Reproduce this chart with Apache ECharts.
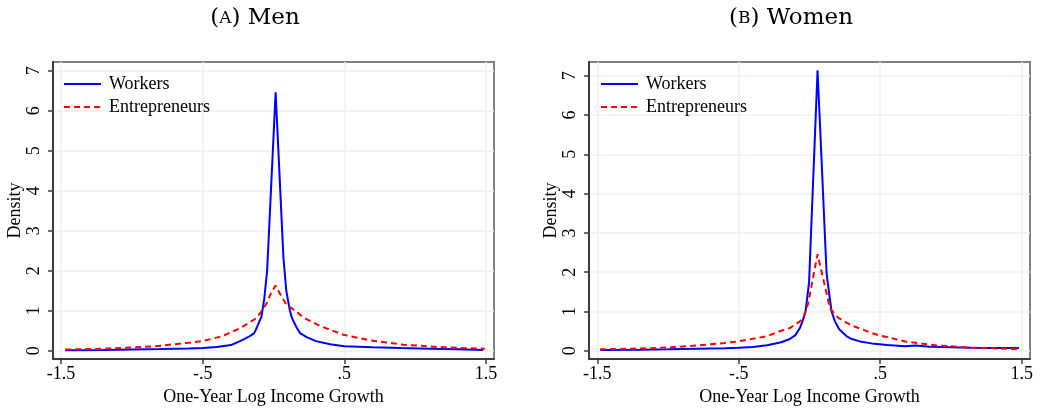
<!DOCTYPE html>
<html>
<head>
<meta charset="utf-8">
<script src="https://cdn.jsdelivr.net/npm/echarts@6/dist/echarts.min.js"></script>
<style>
html,body{margin:0;padding:0;background:#fff;}
#chart{width:1043px;height:411px;}
</style>
</head>
<body>
<div id="chart"></div>
<script>
// ---- data (x = one-year log income growth, y = density) ----
const xTicks = [-1.5, -0.5, 0.5, 1.5];
const xTickLabels = ['-1.5', '-.5', '.5', '1.5'];
const yTicks = [0, 1, 2, 3, 4, 5, 6, 7];
const seriesNames = ['Workers', 'Entrepreneurs'];
const panelTitles = ['Men', 'Women'];
const panelLetters = ['A', 'B'];

const menWorkers = [
  [-1.47, 0.01], [-1.2, 0.02], [-1.0, 0.03], [-0.8, 0.04], [-0.6, 0.055], [-0.5, 0.07],
  [-0.4, 0.09], [-0.3, 0.14], [-0.225, 0.26], [-0.17, 0.36], [-0.136, 0.44], [-0.115, 0.6],
  [-0.085, 0.85], [-0.065, 1.3], [-0.045, 2.0], [0.015, 6.46], [0.07, 2.33], [0.09, 1.5],
  [0.116, 1.0], [0.13, 0.82], [0.16, 0.6], [0.187, 0.44], [0.234, 0.34], [0.3, 0.24],
  [0.4, 0.16], [0.5, 0.11], [0.7, 0.085], [0.9, 0.065], [1.1, 0.05], [1.3, 0.035], [1.48, 0.02]
];
const menEntrepreneurs = [
  [-1.47, 0.03], [-1.2, 0.05], [-1.07, 0.07], [-0.836, 0.11], [-0.6, 0.2], [-0.5, 0.24],
  [-0.366, 0.36], [-0.237, 0.56], [-0.131, 0.79], [-0.096, 0.93], [-0.049, 1.18], [-0.014, 1.47],
  [0.015, 1.63], [0.045, 1.43], [0.093, 1.14], [0.163, 0.98], [0.21, 0.83], [0.328, 0.62],
  [0.492, 0.4], [0.68, 0.26], [0.916, 0.15], [1.151, 0.095], [1.3, 0.07], [1.492, 0.05]
];
const womenWorkers = [
  [-1.48, 0.02], [-1.2, 0.03], [-1.0, 0.04], [-0.8, 0.055], [-0.6, 0.068], [-0.5, 0.08],
  [-0.4, 0.1], [-0.3, 0.14], [-0.2, 0.22], [-0.139, 0.3], [-0.1, 0.4], [-0.068, 0.58],
  [-0.045, 0.8], [-0.028, 1.0], [-0.003, 1.75], [0.057, 7.14], [0.121, 1.96], [0.156, 1.0],
  [0.18, 0.75], [0.21, 0.55], [0.263, 0.37], [0.3, 0.3], [0.356, 0.24], [0.44, 0.19],
  [0.55, 0.15], [0.675, 0.12], [0.75, 0.135], [0.85, 0.105], [1.0, 0.09], [1.147, 0.08],
  [1.3, 0.075], [1.48, 0.07]
];
const womenEntrepreneurs = [
  [-1.48, 0.04], [-1.2, 0.06], [-1.08, 0.075], [-0.85, 0.12], [-0.6, 0.2], [-0.505, 0.24],
  [-0.3, 0.37], [-0.21, 0.5], [-0.139, 0.58], [-0.068, 0.75], [-0.045, 0.83], [-0.01, 1.2],
  [0.026, 1.88], [0.057, 2.46], [0.086, 2.0], [0.121, 1.46], [0.144, 1.08], [0.2, 0.85],
  [0.3, 0.64], [0.356, 0.57], [0.44, 0.45], [0.5, 0.39], [0.675, 0.24], [0.91, 0.135],
  [1.147, 0.08], [1.3, 0.065], [1.48, 0.04]
];

const panelData = [[menWorkers, menEntrepreneurs], [womenWorkers, womenEntrepreneurs]];

// ---- layout / style ----
const FONT = '"Liberation Serif", "Times New Roman", serif';
const grids = [
  { left: 53, top: 62, width: 441, height: 301 },
  { left: 589, top: 62, width: 441, height: 301 }
];
const xRanges = [[-1.556, 1.556], [-1.559, 1.559]];
const yRanges = [[-0.21, 7.22], [-0.21, 7.35]];
const titleCenters = [250, 786];
const legendLefts = [58, 595];
const colors = ['#0000ff', '#ff0000'];
const lineTypes = ['solid', [6, 4]];

const option = {
  animation: false,
  backgroundColor: '#ffffff',
  title: panelTitles.map((t, i) => ({
    text: '{p|(}{s|' + panelLetters[i] + '}{p|) ' + t + '}',
    left: titleCenters[i],
    top: 2,
    textAlign: 'center',
    textStyle: {
      fontWeight: 'normal',
      rich: {
        p: { fontFamily: '"DejaVu Serif", serif', fontSize: 23, fontWeight: 'normal', color: '#000' },
        s: { fontFamily: '"DejaVu Serif", serif', fontSize: 17, fontWeight: 'normal', color: '#000' }
      }
    }
  })),
  legend: legendLefts.map((l, i) => ({
    orient: 'vertical',
    left: l,
    top: 70,
    itemWidth: 37,
    itemHeight: 14,
    itemGap: 5,
    data: seriesNames,
    selectedMode: false,
    itemStyle: { opacity: 0 },
    textStyle: { fontFamily: FONT, fontSize: 18, color: '#000', padding: [0, 0, 0, 3] }
  })),
  grid: grids.map(g => Object.assign({
    show: true, borderColor: '#808080', borderWidth: 2, backgroundColor: '#fff'
  }, g)),
  xAxis: grids.map((g, i) => ({
    type: 'value',
    gridIndex: i,
    min: xRanges[i][0],
    max: xRanges[i][1],
    name: 'One-Year Log Income Growth',
    nameLocation: 'middle',
    nameGap: 25,
    nameTextStyle: { fontFamily: FONT, fontSize: 18, color: '#000' },
    axisLine: { onZero: false, lineStyle: { color: '#3c3c3c', width: 2 } },
    axisTick: { show: true, length: 5, customValues: xTicks, lineStyle: { color: '#3c3c3c', width: 1.5 } },
    axisLabel: {
      customValues: xTicks,
      margin: 6,
      fontFamily: FONT, fontSize: 18, color: '#000',
      formatter: v => xTickLabels[xTicks.findIndex(t => Math.abs(t - v) < 1e-9)]
    },
    splitLine: { show: true, lineStyle: { color: '#eaf2f3', width: 1.5 } }
  })),
  yAxis: grids.map((g, i) => ({
    type: 'value',
    gridIndex: i,
    min: yRanges[i][0],
    max: yRanges[i][1],
    name: 'Density',
    nameLocation: 'middle',
    nameGap: 29,
    nameTextStyle: { fontFamily: FONT, fontSize: 18, color: '#000' },
    axisLine: { show: true, onZero: false, lineStyle: { color: '#3c3c3c', width: 2 } },
    axisTick: { show: true, length: 5, customValues: yTicks, lineStyle: { color: '#3c3c3c', width: 1.5 } },
    axisLabel: {
      customValues: yTicks,
      rotate: 90,
      margin: 10,
      fontFamily: FONT, fontSize: 18, color: '#000',
      formatter: v => String(v)
    },
    splitLine: { show: true, lineStyle: { color: '#eaf2f3', width: 1.5 } }
  })),
  series: []
};

panelData.forEach((pair, i) => {
  pair.forEach((data, k) => {
    option.series.push({
      type: 'line',
      name: seriesNames[k],
      xAxisIndex: i,
      yAxisIndex: i,
      data: data,
      symbol: 'none',
      smooth: false,
      z: k === 0 ? 3 : 4,
      lineStyle: { color: colors[k], width: 2, type: lineTypes[k] },
      itemStyle: { color: colors[k] }
    });
  });
});

const chart = echarts.init(document.getElementById('chart'), null, { renderer: 'canvas' });
chart.setOption(option);
</script>
</body>
</html>
